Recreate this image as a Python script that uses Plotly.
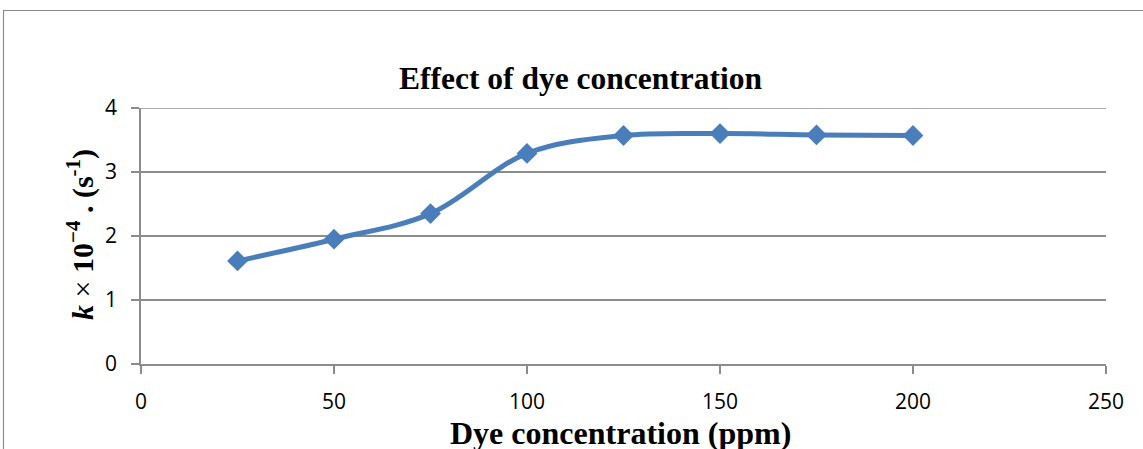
import plotly.graph_objects as go

# Data
dye_ppm = [25, 50, 75, 100, 125, 150, 175, 200]
k_values = [1.61, 1.95, 2.35, 3.29, 3.57, 3.60, 3.58, 3.57]

x_ticks = [0, 50, 100, 150, 200, 250]
y_ticks = [0, 1, 2, 3, 4]

chart_title = "Effect of dye concentration"
x_title = "Dye concentration (ppm)"
y_title = "<b><i>k</i></b> × <b>10<sup>−4</sup> . (s<sup>-1</sup>)</b>"

W, H = 1143, 449
ML, MR, MT, MB = 141, 37, 108, 85
pw = W - ML - MR
ph = H - MT - MB

def px_to_paper_x(px):
    return (px - ML) / pw

def py_to_paper_y(py):
    return (H - MB - py) / ph

blue = "#4A7EBB"
grey = "#8C8C8C"

fig = go.Figure()
fig.add_trace(go.Scatter(
    x=dye_ppm, y=k_values,
    mode="lines+markers",
    line=dict(color=blue, width=5, shape="spline", smoothing=1.0),
    marker=dict(symbol="diamond", size=16, color=blue),
    showlegend=False,
    hoverinfo="x+y",
))

tick_font = dict(family="Open Sans, Lato, sans-serif", size=21, color="#000000")

fig.update_xaxes(
    range=[0, 250], tickvals=x_ticks, ticktext=[str(v) for v in x_ticks],
    showgrid=False, zeroline=False,
    showline=True, linecolor=grey, linewidth=1.5,
    ticks="outside", ticklen=8, tickcolor=grey, tickwidth=1.5,
    tickfont=tick_font, ticklabelstandoff=10,
)
fig.update_yaxes(
    range=[0, 4], tickvals=y_ticks, ticktext=[str(v) for v in y_ticks],
    showgrid=True, gridcolor=grey, gridwidth=1.5, zeroline=False,
    showline=True, linecolor=grey, linewidth=1.5,
    ticks="outside", ticklen=8, tickcolor=grey, tickwidth=1.5,
    tickfont=tick_font, ticklabelstandoff=10,
)

# gridline at the top of the value range (hidden by plotly at the range edge)
fig.add_shape(
    type="line", xref="paper", yref="y",
    x0=0, x1=1, y0=y_ticks[-1], y1=y_ticks[-1],
    line=dict(color=grey, width=1.5), layer="below",
)

serif = "Liberation Serif, Times New Roman, serif"

fig.add_annotation(
    text="<b>" + chart_title + "</b>",
    xref="paper", yref="paper",
    x=px_to_paper_x(580.5), y=py_to_paper_y(78),
    xanchor="center", yanchor="middle", showarrow=False,
    font=dict(family=serif, size=31.5, color="#000000"),
)
fig.add_annotation(
    text="<b>" + x_title + "</b>",
    xref="paper", yref="paper",
    x=px_to_paper_x(620), y=py_to_paper_y(433),
    xanchor="center", yanchor="middle", showarrow=False,
    font=dict(family=serif, size=32, color="#000000"),
)
fig.add_annotation(
    text=y_title,
    xref="paper", yref="paper",
    x=px_to_paper_x(80), y=py_to_paper_y(235),
    xanchor="center", yanchor="middle", showarrow=False, textangle=-90,
    font=dict(family=serif, size=30, color="#000000"),
)

# Outer chart-area border (left and top edges visible in the crop)
x0 = px_to_paper_x(3.5)
y_top = py_to_paper_y(10.5)
y_bot = py_to_paper_y(H + 20)
x_right = px_to_paper_x(W + 20)
fig.add_shape(
    type="path", xref="paper", yref="paper",
    path=f"M {x0} {y_bot} L {x0} {y_top} L {x_right} {y_top}",
    line=dict(color=grey, width=1.2),
)

fig.update_layout(
    width=W, height=H,
    margin=dict(l=ML, r=MR, t=MT, b=MB, pad=0),
    paper_bgcolor="#FFFFFF", plot_bgcolor="#FFFFFF",
)

fig.write_html(
    "out.html",
    config={"displayModeBar": False},
    post_script="document.body.style.margin='0';",
)
